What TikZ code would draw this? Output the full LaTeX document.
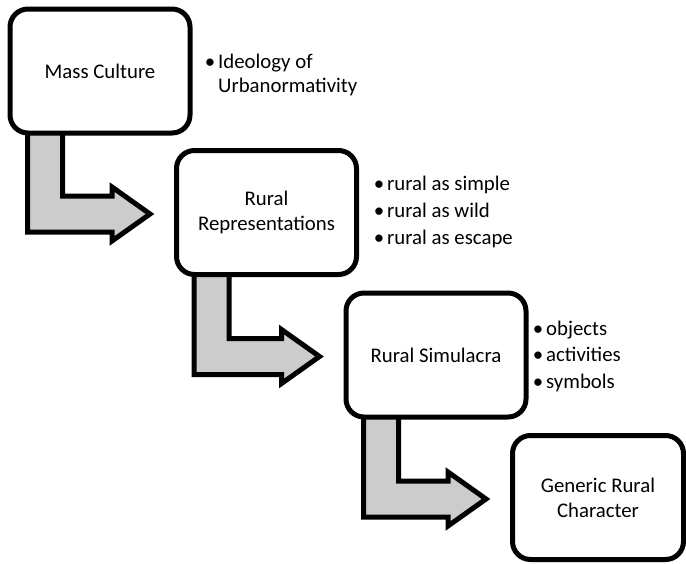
\documentclass[tikz,border=0pt]{standalone}
\usepackage{fontspec}
\setmainfont{Carlito}
\usetikzlibrary{backgrounds,calc}

\definecolor{arrowgray}{RGB}{204,204,204}

% bullet hanging to the left of the item text
\newcommand{\itm}{\makebox[0pt][r]{\textbullet\hspace{3pt}}}
% bent block arrow from the bottom of one box to the left of the next
\newcommand{\bendarrow}[2]{%
  \path[bentarrow] let \p1=(#1.south west), \p2=(#2.west) in
    (\x1+20pt,\y1+6pt) -- (\x1+20pt,\y2-19.5pt) -- (\x2-62pt,\y2-19.5pt)
    -- (\x2-62pt,\y2-28.5pt) -- (\x2-24pt,\y2-1.5pt) -- (\x2-62pt,\y2+25.5pt)
    -- (\x2-62pt,\y2+16.5pt) -- (\x1+55pt,\y2+16.5pt) -- (\x1+55pt,\y1+6pt) -- cycle;}

\begin{document}
\begin{tikzpicture}[x=1pt, y=-1pt,
        box/.style={draw, line width=5pt, rounded corners=18pt, fill=white,
            minimum width=180pt, minimum height=124pt, inner sep=0pt,
            align=center, font=\fontsize{20.8}{25}\selectfont},
        bentarrow/.style={draw, fill=arrowgray, line width=5pt},
        bulletlist/.style={anchor=base west, align=left, inner sep=0pt}
    ]
    \useasboundingbox (0,0) rectangle (686,563);

    \node[box] (mass)  at (100,71)    {Mass Culture};
    \node[box] (repr)  at (266.5,212.5) {Rural\\Representations};
    \node[box] (simul) at (436,355)   {Rural Simulacra};
    \node[box, minimum width=171pt] (gener) at (598,497.5) {Generic Rural\\Character};

    % lists are placed by the baseline of their last line
    \node[bulletlist, font=\fontsize{20.8}{24}\selectfont] (massl) at (218,92)
        {\itm Ideology of\\Urbanormativity};
    \node[bulletlist, font=\fontsize{20.8}{27}\selectfont] (reprl) at (387,244)
        {\itm rural as simple\\\itm rural as wild\\\itm rural as escape};
    \node[bulletlist, font=\fontsize{20.8}{26.5}\selectfont] (simull) at (546,388)
        {\itm objects\\\itm activities\\\itm symbols};

    \begin{scope}[on background layer]
        \bendarrow{mass}{repr}
        \bendarrow{repr}{simul}
        \bendarrow{simul}{gener}
    \end{scope}
\end{tikzpicture}
\end{document}
